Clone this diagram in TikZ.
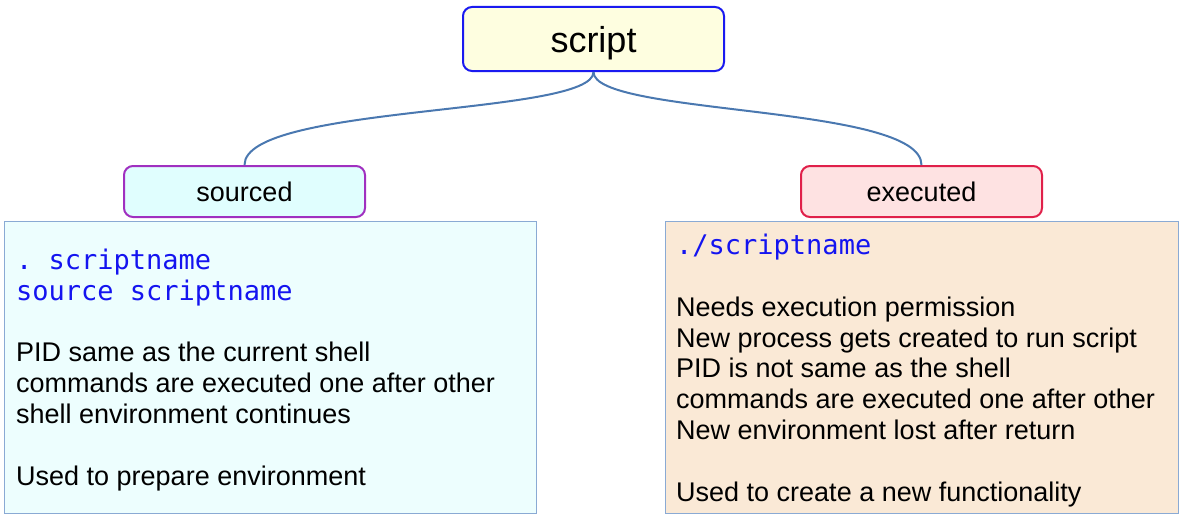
\documentclass[tikz,border=0pt]{standalone}
\usepackage{fontspec}
\setmainfont{Liberation Sans}
\setmonofont{DejaVu Sans Mono}
\definecolor{topfill}{HTML}{FEFEE0}
\definecolor{topline}{HTML}{1A1AF0}
\definecolor{srcfill}{HTML}{E0FEFE}
\definecolor{srcline}{HTML}{A030C0}
\definecolor{exefill}{HTML}{FEE2E2}
\definecolor{exeline}{HTML}{E0204A}
\definecolor{srcpanel}{HTML}{EDFEFE}
\definecolor{exepanel}{HTML}{FAE9D6}
\definecolor{panelline}{HTML}{8AAAD4}
\definecolor{wire}{HTML}{4A78B0}
\definecolor{code}{HTML}{1414F0}
\newcommand{\cmd}[1]{{\ttfamily\color{code}#1}}
\begin{document}
\begin{tikzpicture}[x=1pt,y=-1pt,
  tag/.style={draw, rounded corners=9pt, line width=2pt, inner sep=0pt,
    font=\fontsize{27}{31}\selectfont},
  panel/.style={draw=panelline, line width=1pt, inner sep=0pt},
  body/.style={align=left, inner sep=0pt, anchor=base west,
    font=\fontsize{27}{30.8}\selectfont},
  link/.style={draw=wire, line width=2pt}]
\useasboundingbox (0,0) rectangle (1185,519);

% top node and its two branches
\node[tag, draw=topline, fill=topfill, minimum width=261pt, minimum height=64pt,
  text depth=0pt, font=\fontsize{36}{40}\selectfont] (script) at (593.5,39) {script};
\node[tag, draw=srcline, fill=srcfill, minimum width=241pt, minimum height=51pt]
  (sourced) at (244.5,191.5) {sourced};
\node[tag, draw=exeline, fill=exefill, minimum width=241pt, minimum height=51pt]
  (executed) at (921.5,191.5) {executed};

% description panels
\node[panel, fill=srcpanel, minimum width=532pt, minimum height=292pt]
  (srcbox) at (270,367) {};
\node[panel, fill=exepanel, minimum width=513pt, minimum height=292pt]
  (exebox) at (921.5,367) {};

% the base anchor of a multi-line node sits on its last line
\node[body] (srctext) at (16,485) {%
  \cmd{. scriptname}\\
  \cmd{source scriptname}\\[30.8pt]
  PID same as the current shell\\
  commands are executed one after other\\
  shell environment continues\\[30.8pt]
  Used to prepare environment};

\node[body] (exetext) at (676,501) {%
  \cmd{./scriptname}\\[30.8pt]
  Needs execution permission\\
  New process gets created to run script\\
  PID is not same as the shell\\
  commands are executed one after other\\
  New environment lost after return\\[30.8pt]
  Used to create a new functionality};

% curved connectors
\draw[link] (script.south) .. controls +(0,44) and +(0,-61) .. (sourced.north);
\draw[link] (script.south) .. controls +(0,44) and +(0,-61) .. (executed.north);
\end{tikzpicture}
\end{document}
